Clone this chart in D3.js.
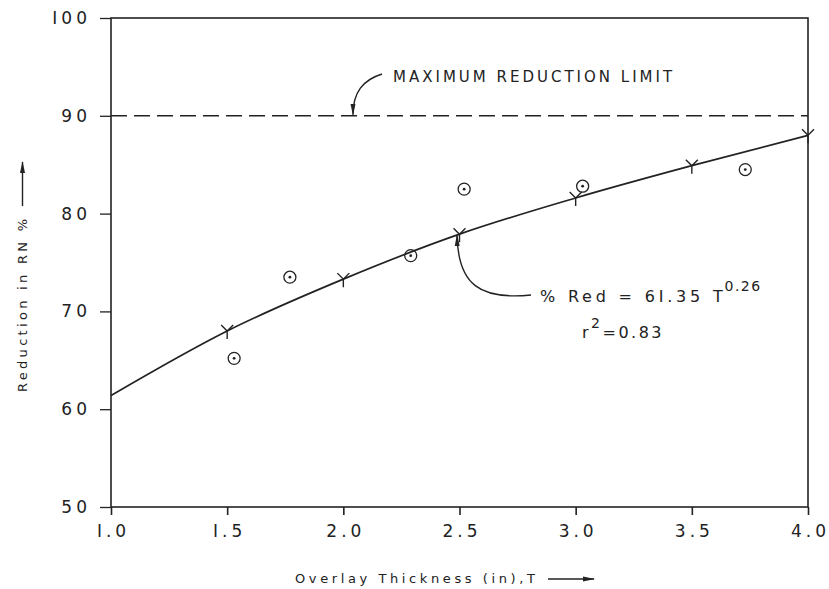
<!DOCTYPE html>
<html>
<head>
<meta charset="utf-8">
<script src="https://cdn.jsdelivr.net/npm/d3@7"></script>
<style>
  body { margin: 0; background: #fff; }
  text { font-family: "DejaVu Sans", sans-serif; fill: #222; }
</style>
</head>
<body>
<div id="chart"></div>
<script>
// fitted curve, read at the "Y" marks
var fitT = [1.0, 1.5, 2.0, 2.5, 3.0, 3.5, 4.0];
var fitRed = [61.4, 68.0, 73.3, 77.9, 81.6, 84.9, 88.0];
// observed points (circled dots)
var obsT = [1.53, 1.77, 2.29, 2.52, 3.03, 3.73];
var obsRed = [65.2, 73.5, 75.7, 82.5, 82.8, 84.5];
var xTicks = [1.0, 1.5, 2.0, 2.5, 3.0, 3.5, 4.0];
var yTicks = [50, 60, 70, 80, 90, 100];
var maxLimit = 90;

var width = 829, height = 589,
    margin = ({top: 18, right: 21, bottom: 82, left: 111});

var x = d3.scaleLinear().domain([1, 4]).range([margin.left, width - margin.right]);
var y = d3.scaleLinear().domain([50, 100]).range([height - margin.bottom, margin.top]);

var svg = d3.select("#chart").append("svg")
    .attr("width", width).attr("height", height);

var defs = svg.append("defs");
defs.append("marker").attr("id", "head")
    .attr("viewBox", "0 0 12 6").attr("refX", 11).attr("refY", 3)
    .attr("markerWidth", 12).attr("markerHeight", 6)
    .attr("markerUnits", "userSpaceOnUse").attr("orient", "auto")
  .append("path").attr("d", "M0,0.5 L12,3 L0,5.5 Z").attr("fill", "#222");

// frame
svg.append("rect")
    .attr("x", x(1)).attr("y", y(100))
    .attr("width", x(4) - x(1)).attr("height", y(50) - y(100))
    .attr("fill", "none").attr("stroke", "#222").attr("stroke-width", 1.6);

// y axis
var yAxis = g => g
    .attr("transform", `translate(${x(1)},0)`)
    .call(d3.axisLeft(y).tickValues(yTicks).tickSize(11).tickPadding(9)
        .tickFormat(d => d == 100 ? "I00" : d))
    .call(g => g.select(".domain").remove())
    .call(g => g.selectAll("line").attr("stroke", "#222").attr("stroke-width", 1.3))
    .call(g => g.selectAll("text").attr("x", -20).attr("font-size", "17px")
        .attr("letter-spacing", "4px").attr("fill", "#222").attr("font-family", "DejaVu Sans"));

var xAxis = g => g
    .attr("transform", `translate(0,${y(50)})`)
    .call(d3.axisBottom(x).tickValues(xTicks).tickSize(8).tickPadding(10)
        .tickFormat(d => d3.format(".1f")(d).replace("1", "I")))
    .call(g => g.select(".domain").remove())
    .call(g => g.selectAll("line").attr("stroke", "#222").attr("stroke-width", 1.6))
    .call(g => g.selectAll("text").attr("font-size", "17px").attr("dx", "2px")
        .attr("letter-spacing", "4px").attr("fill", "#222").attr("font-family", "DejaVu Sans"));

svg.append("g").call(yAxis);
svg.append("g").call(xAxis);

// maximum reduction limit
svg.append("line")
    .attr("x1", x(1)).attr("x2", x(4))
    .attr("y1", y(maxLimit)).attr("y2", y(maxLimit))
    .attr("stroke", "#222").attr("stroke-width", 1.6)
    .attr("stroke-dasharray", "16 7");

// fitted curve
var pts = fitT.map((t, i) => [t, fitRed[i]]);
svg.append("path")
    .datum(pts)
    .attr("fill", "none").attr("stroke", "#222").attr("stroke-width", 1.7)
    .attr("d", d3.line().x(d => x(d[0])).y(d => y(d[1])).curve(d3.curveMonotoneX));

// Y marks
svg.append("g").selectAll("path")
    .data(pts.slice(1))
    .join("path")
    .attr("fill", "none").attr("stroke", "#222").attr("stroke-width", 1.4)
    .attr("d", d => {
      var cx = x(d[0]), cy = y(d[1]);
      return `M${cx - 6},${cy - 6} L${cx},${cy} L${cx + 6},${cy - 6} M${cx},${cy} L${cx},${cy + 8}`;
    });

// observed circles
var obs = svg.append("g").selectAll("g")
    .data(obsT.map((t, i) => [t, obsRed[i]]))
    .join("g")
    .attr("transform", d => `translate(${x(d[0])},${y(d[1])})`);
obs.append("circle").attr("r", 6).attr("fill", "none").attr("stroke", "#222").attr("stroke-width", 1.3);
obs.append("circle").attr("r", 1.4).attr("fill", "#222");

// annotations
svg.append("text")
    .attr("x", 393).attr("y", 82)
    .attr("font-size", "15px").attr("letter-spacing", "3px")
    .text("MAXIMUM REDUCTION LIMIT");
svg.append("path")
    .attr("fill", "none").attr("stroke", "#222").attr("stroke-width", 1.4)
    .attr("marker-end", "url(#head)")
    .attr("d", `M382,74 C363,80 353,92 353,${y(maxLimit) - 1}`);

var eq = svg.append("text")
    .attr("x", 540).attr("y", 302)
    .attr("font-size", "16px").attr("letter-spacing", "3.8px");
eq.append("tspan").text("% Red = 6I.35 T");
eq.append("tspan").attr("dx", -2).attr("dy", -11).attr("font-size", "14px")
    .attr("letter-spacing", "1.5px").text("0.26");

var r2 = svg.append("text")
    .attr("x", 582).attr("y", 338)
    .attr("font-size", "16px").attr("letter-spacing", "2.5px");
r2.append("tspan").text("r");
r2.append("tspan").attr("dy", -10).attr("font-size", "14px").text("2");
r2.append("tspan").attr("dy", 10).text("=0.83");

svg.append("path")
    .attr("fill", "none").attr("stroke", "#222").attr("stroke-width", 1.4)
    .attr("marker-end", "url(#head)")
    .attr("d", `M531,295 C480,300 458,285 457,${y(77.9) + 1}`);

// axis titles with arrows
svg.append("text")
    .attr("transform", "translate(27,392) rotate(-90)")
    .attr("font-size", "13px").attr("letter-spacing", "3.3px")
    .text("Reduction in RN %");
svg.append("line")
    .attr("x1", 22.5).attr("x2", 22.5).attr("y1", 206).attr("y2", 162)
    .attr("stroke", "#222").attr("stroke-width", 1.4)
    .attr("marker-end", "url(#head)");

svg.append("text")
    .attr("x", 295).attr("y", 583)
    .attr("font-size", "13px").attr("letter-spacing", "3.6px")
    .text("Overlay Thickness (in),T");
svg.append("line")
    .attr("x1", 548).attr("x2", 594).attr("y1", 579).attr("y2", 579)
    .attr("stroke", "#222").attr("stroke-width", 1.4)
    .attr("marker-end", "url(#head)");
</script>
</body>
</html>
